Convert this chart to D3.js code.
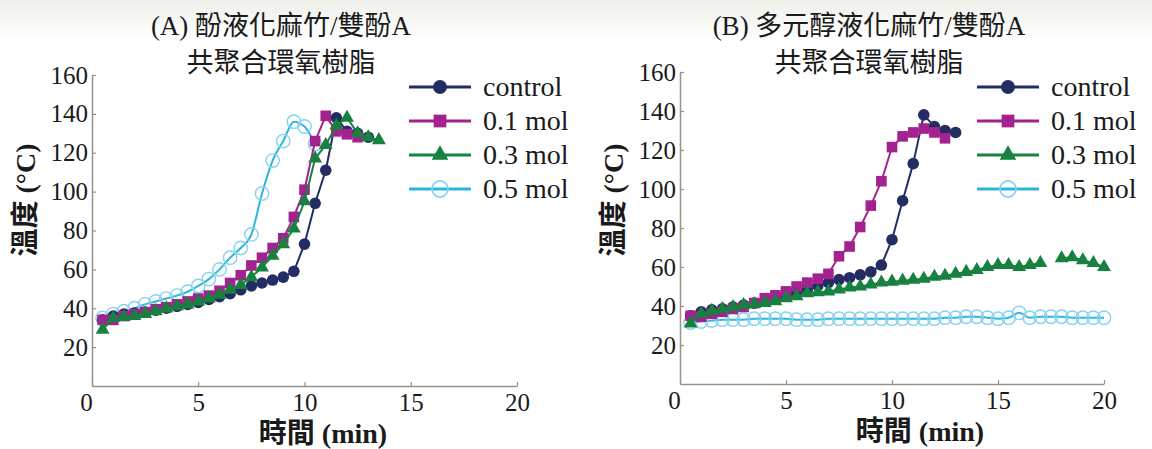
<!DOCTYPE html>
<html>
<head>
<meta charset="utf-8">
<script src="https://cdn.jsdelivr.net/npm/d3@7"></script>
<style>
  html, body { margin: 0; padding: 0; background: #fff; }
  svg { display: block; }
</style>
</head>
<body>
<svg id="chart" width="1152" height="449"></svg>
<script>
// ---- data (time in min, temperature in °C) ----
const timesA = [0.5, 1, 1.5, 2, 2.5, 3, 3.5, 4, 4.5, 5, 5.5, 6, 6.5, 7, 7.5, 8, 8.5, 9, 9.5, 10,
  10.5, 11, 11.5, 12, 12.5, 13, 13.5]
const timesB = [0.5, 1, 1.5, 2, 2.5, 3, 3.5, 4, 4.5, 5, 5.5, 6, 6.5, 7, 7.5, 8, 8.5, 9, 9.5, 10,
  10.5, 11, 11.5, 12, 12.5, 13, 13.5, 14, 14.5, 15, 15.5, 16, 16.5, 17, 17.5, 18, 18.5, 19, 19.5, 20]

// (A) phenol liquefied bamboo
const controlA = [34, 36, 37, 37.5, 38, 39, 40, 41, 42, 43, 44.5, 46, 47.5, 49.5, 51.5, 53, 54.5, 56, 59, 73,
  94, 111, 138, 131, 130, 128]
const mol01A = [34, 34, 36, 37, 38, 39.5, 40.5, 42, 43.5, 45, 46.5, 49, 53, 57, 62, 66, 71, 76, 87, 101,
  126, 139, 131, 129.5, 128]
const mol03A = [29, 35, 35.5, 36, 37, 38.5, 40, 41, 42, 43.5, 45, 47, 49.5, 52, 56, 61, 67, 73, 81, 95,
  117, 124, 134, 138, 130, 128, 126.5]
const mol05A = [35, 37, 38.5, 40, 42, 43.5, 45, 46.5, 48.5, 51.5, 55, 60, 66, 71, 78, 99, 116, 126, 136, 133.5,
  124.5]

// (B) polyol liquefied bamboo
const controlB = [35, 37, 38, 38.5, 39.5, 40.5, 41.5, 42.5, 44, 45.5, 47, 48.5, 50.5, 52, 53.5, 54.5, 56, 57.5, 61, 74,
  94, 113, 138, 132, 130, 129]
const mol01B = [35, 34.5, 36, 37, 38.5, 39.5, 41.5, 44, 45.5, 47.5, 50, 52, 54, 56.5, 65.5, 70.5, 80.5, 91.5, 104, 121.5,
  127, 129, 131, 129, 126]
const mol03B = [31, 36, 37.5, 38.5, 39.5, 40.5, 41, 41.5, 42.5, 44, 45, 46.5, 47, 47.5, 48.5, 49.5, 50, 51, 52, 52.5,
  53, 53.5, 54, 55, 55.5, 56.5, 57.5, 58.5, 60, 61, 61, 60, 61, 62, null, 64.5, 65, 63.5, 62, 60]
const mol05B = [31.5, 32, 32.5, 33, 33, 33, 33.5, 33.5, 33.5, 33.5, 33, 33, 33, 33.5, 33.5, 33.5, 33.5, 33.5, 33.5, 33.5,
  33.5, 33.5, 33.5, 33.5, 34, 34, 34.5, 34.5, 34, 33.5, 34, 36.5, 34, 34.5, 34.5, 34.5, 34, 34, 34, 34]

const seriesNames = ['control', '0.1 mol', '0.3 mol', '0.5 mol']
const xTicks = [0, 5, 10, 15, 20]
const yTicks = [20, 40, 60, 80, 100, 120, 140, 160]

// ---- styles ----
const COLORS = {
  'control': '#232d63',
  '0.1 mol': '#a3228f',
  '0.3 mol': '#17813f',
  '0.5 mol': '#2cb5de'
}
const SERIF = "'Liberation Serif', 'Times New Roman', Tinos, 'DejaVu Serif', 'Noto Sans CJK TC', serif"
const AXIS_COLOR = '#9c8f86'

const svg = d3.select('#chart')

// faint paper tint at the top of the scan
const defs = svg.append('defs')
const grad = defs.append('linearGradient')
  .attr('id', 'paper').attr('x1', 0).attr('y1', 0).attr('x2', 0).attr('y2', 1)
grad.append('stop').attr('offset', '0%').attr('stop-color', '#eef0e9')
grad.append('stop').attr('offset', '100%').attr('stop-color', '#ffffff')
svg.append('rect').attr('width', 1152).attr('height', 449).attr('fill', '#fff')
svg.append('rect').attr('width', 1152).attr('height', 40).attr('fill', 'url(#paper)')

function drawMarker (sel, name) {
  const c = COLORS[name]
  if (name === 'control') {
    sel.append('circle').attr('r', 5.8).attr('fill', c)
  } else if (name === '0.1 mol') {
    sel.append('rect').attr('x', -5.3).attr('y', -5.3).attr('width', 10.6).attr('height', 10.6).attr('fill', c)
  } else if (name === '0.3 mol') {
    sel.append('path').attr('d', d3.symbol(d3.symbolTriangle, 84)()).attr('fill', c)
  } else {
    sel.append('circle').attr('r', 6.7).attr('fill', 'none')
      .attr('stroke', '#86d3ee').attr('stroke-width', 1.4)
  }
}

function drawPanel (p) {
  const x = d3.scaleLinear().domain([0, 20]).range([p.left, p.right])
  const y = d3.scaleLinear().domain([0, 160]).range([p.bottom, p.top])

  // axes
  const gx = svg.append('g')
    .attr('transform', 'translate(0,' + p.bottom + ')')
    .call(d3.axisBottom(x).tickValues(xTicks).tickSizeInner(-4).tickSizeOuter(0).tickPadding(7))
  const gy = svg.append('g')
    .attr('transform', 'translate(' + p.left + ',0)')
    .call(d3.axisLeft(y).tickValues(yTicks).tickSizeInner(-4).tickSizeOuter(0).tickPadding(4))

  ;[gx, gy].forEach(g => {
    g.attr('font-family', null).attr('font-size', null)
    g.select('.domain').attr('stroke', AXIS_COLOR).attr('stroke-width', 1.5)
    g.selectAll('.tick line').attr('stroke', AXIS_COLOR).attr('stroke-width', 1.2)
    g.selectAll('.tick text')
      .attr('fill', '#1a1a1a')
      .style('font-family', SERIF)
      .style('font-size', '25px')
  })
  // the "0" sits a little left of its tick in the original
  gx.selectAll('.tick text').filter(d => d === 0).attr('dx', -6)

  // series
  const data = p.series.map((vals, i) => ({
    name: seriesNames[i],
    points: vals.map((v, j) => ({ t: p.times[j], v: v }))
  }))
  const order = [3, 0, 1, 2]

  order.forEach(i => {
    const s = data[i]
    const line = d3.line()
      .defined(d => d.v != null)
      .x(d => x(d.t))
      .y(d => y(d.v))
    if (s.name === '0.5 mol') line.curve(d3.curveMonotoneX)

    svg.append('path')
      .datum(s.points)
      .attr('fill', 'none')
      .attr('stroke', COLORS[s.name])
      .attr('stroke-width', 2)
      .attr('stroke-linejoin', 'round')
      .attr('d', line)

    svg.append('g').selectAll('g')
      .data(s.points.filter(d => d.v != null))
      .join('g')
      .attr('transform', d => 'translate(' + x(d.t) + ',' + y(d.v) + ')')
      .each(function () { drawMarker(d3.select(this), s.name) })
  })

  // titles
  const title = svg.append('text')
    .attr('text-anchor', 'middle')
    .attr('fill', '#1a1a1a')
    .style('font-family', SERIF)
    .style('font-size', '27px')
  title.append('tspan').attr('x', p.titleX).attr('y', 35).text(p.title1)
  title.append('tspan').attr('x', p.titleX).attr('y', 72).text('共聚合環氧樹脂')

  svg.append('text')
    .attr('x', p.xTitleX)
    .attr('y', p.bottom + 57)
    .attr('text-anchor', 'middle')
    .attr('fill', '#1a1a1a')
    .style('font-family', SERIF)
    .style('font-size', '28px')
    .style('font-weight', 'bold')
    .text('時間 (min)')

  svg.append('text')
    .attr('transform', 'translate(' + (p.left - 67) + ',' + 200 + ') rotate(-90)')
    .attr('text-anchor', 'middle')
    .attr('dominant-baseline', 'central')
    .attr('fill', '#1a1a1a')
    .style('font-family', SERIF)
    .style('font-size', '28px')
    .style('font-weight', 'bold')
    .text('溫度 (°C)')

  // legend
  const leg = svg.append('g')
  seriesNames.forEach((name, i) => {
    const ly = 87 + i * 34
    const row = leg.append('g').attr('transform', 'translate(' + p.legendX + ',' + ly + ')')
    row.append('line')
      .attr('x1', 0).attr('x2', 62)
      .attr('stroke', COLORS[name]).attr('stroke-width', 3)
    drawMarker(row.append('g').attr('transform', 'translate(31,0) scale(1.2)'), name)
    row.append('text')
      .attr('x', 74)
      .attr('dy', '0.33em')
      .attr('fill', '#1a1a1a')
      .style('font-family', SERIF)
      .style('font-size', '28px')
      .text(name)
  })
}

drawPanel({
  left: 92, right: 517, top: 75, bottom: 386,
  times: timesA,
  series: [controlA, mol01A, mol03A, mol05A],
  title1: '(A) 酚液化麻竹/雙酚A',
  titleX: 281,
  xTitleX: 323,
  legendX: 409
})

drawPanel({
  left: 680, right: 1104, top: 72, bottom: 384,
  times: timesB,
  series: [controlB, mol01B, mol03B, mol05B],
  title1: '(B) 多元醇液化麻竹/雙酚A',
  titleX: 869,
  xTitleX: 920,
  legendX: 977
})
</script>
</body>
</html>
